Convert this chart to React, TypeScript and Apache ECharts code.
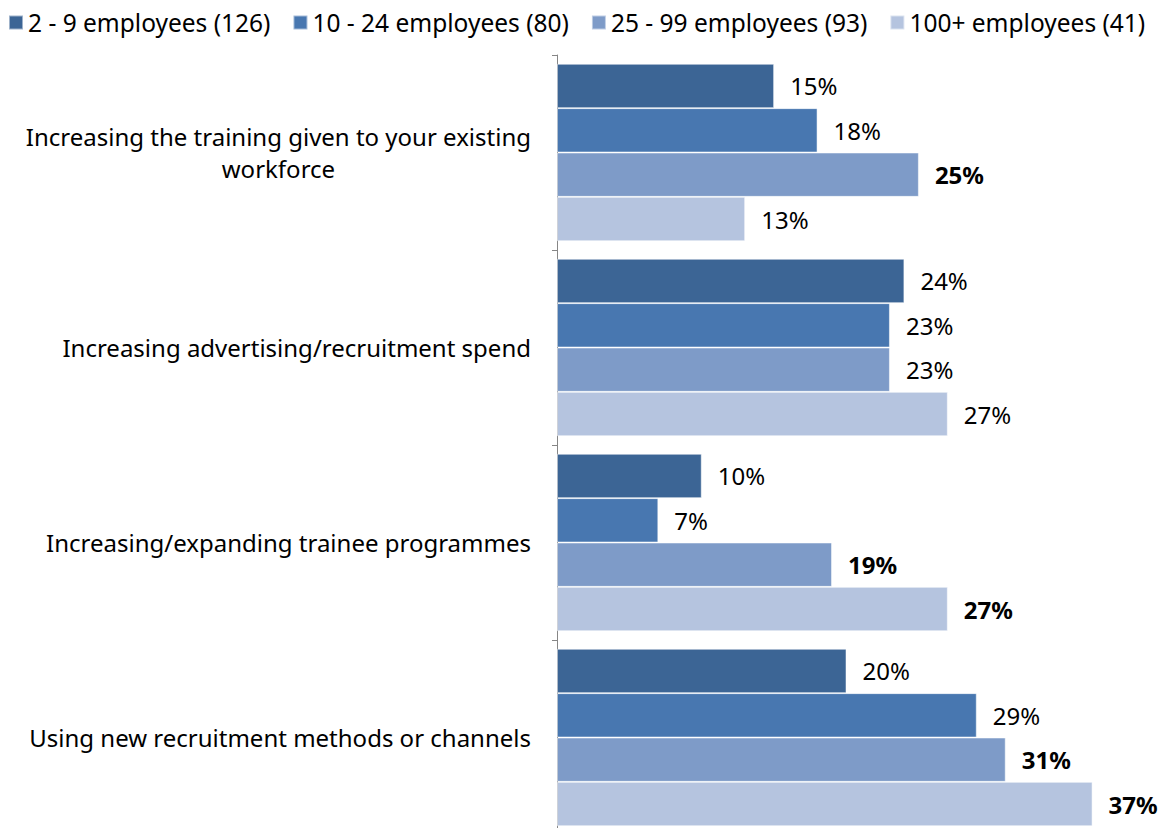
import React, { useEffect, useRef } from "react";
import * as echarts from "echarts";

const categories = [
  "Increasing the training given to your existing\nworkforce",
  "Increasing advertising/recruitment spend",
  "Increasing/expanding trainee programmes",
  "Using new recruitment methods or channels",
];

const seriesNames = [
  "2 - 9 employees (126)",
  "10 - 24 employees (80)",
  "25 - 99 employees (93)",
  "100+ employees (41)",
];

const values2to9 = [15, 24, 10, 20];
const values10to24 = [18, 23, 7, 29];
const values25to99 = [25, 23, 19, 31];
const values100plus = [13, 27, 27, 37];

const bold2to9 = [false, false, false, false];
const bold10to24 = [false, false, false, false];
const bold25to99 = [true, false, true, true];
const bold100plus = [false, false, true, true];

const colors = ["#3C6595", "#4877B0", "#7E9BC8", "#B5C4DF"];

const FONT = "Noto Sans";
const FS_AXIS = 24;
const FS_LEGEND = 24.5;
const FS_LABEL = 24;

export default function App() {
  const ref = useRef<HTMLDivElement>(null);

  useEffect(() => {
    if (!ref.current) return;
    const chart = echarts.init(ref.current, null, { renderer: "svg" });
    const allValues = [values2to9, values10to24, values25to99, values100plus];
    const allBold = [bold2to9, bold10to24, bold25to99, bold100plus];

    const series = seriesNames.map((name, si) => ({
      name,
      type: "bar" as const,
      barGap: "0%",
      barCategoryGap: "9%",
      itemStyle: {
        color: colors[si],
        borderColor: "rgba(255,255,255,0.5)",
        borderWidth: 1,
      },
      data: allValues[si].map((v, i) => ({
        value: v,
        label: {
          fontWeight: allBold[si][i] ? "bold" : "normal",
        },
      })),
      label: {
        show: true,
        position: "right" as const,
        distance: 16,
        formatter: "{c}%",
        color: "#000",
        fontFamily: FONT,
        fontSize: FS_LABEL,
      },
    }));

    chart.setOption({
      animation: false,
      color: colors,
      textStyle: { fontFamily: FONT },
      legend: {
        top: 5,
        left: 3,
        itemWidth: 14,
        itemHeight: 14,
        itemGap: 22,
        icon: "rect",
        textStyle: { fontFamily: FONT, fontSize: FS_LEGEND, color: "#000" },
        data: seriesNames,
      },
      grid: { left: 557, right: 32, top: 55, bottom: 1, containLabel: false },
      xAxis: {
        type: "value",
        min: 0,
        max: 40,
        show: false,
        splitLine: { show: false },
      },
      yAxis: {
        type: "category",
        inverse: true,
        data: categories,
        axisLine: { show: true, lineStyle: { color: "#868686", width: 1 } },
        axisTick: { show: true, length: 5, lineStyle: { color: "#868686" } },
        axisLabel: {
          margin: 26,
          color: "#000",
          fontFamily: FONT,
          fontSize: FS_AXIS,
          lineHeight: 32,
          formatter: (val: string) => {
            const parts = val.split("\n");
            if (parts.length === 1) return parts[0];
            return "{a|" + parts[0] + "}\n{c|" + parts[1] + "}";
          },
          rich: {
            a: { fontFamily: FONT, fontSize: FS_AXIS, lineHeight: 32, color: "#000" },
            c: { fontFamily: FONT, fontSize: FS_AXIS, lineHeight: 32, color: "#000", align: "center" },
          },
        },
      },
      series,
    });

    return () => chart.dispose();
  }, []);

  return <div ref={ref} style={{ width: 1168, height: 836, margin: -8 }} />;
}
